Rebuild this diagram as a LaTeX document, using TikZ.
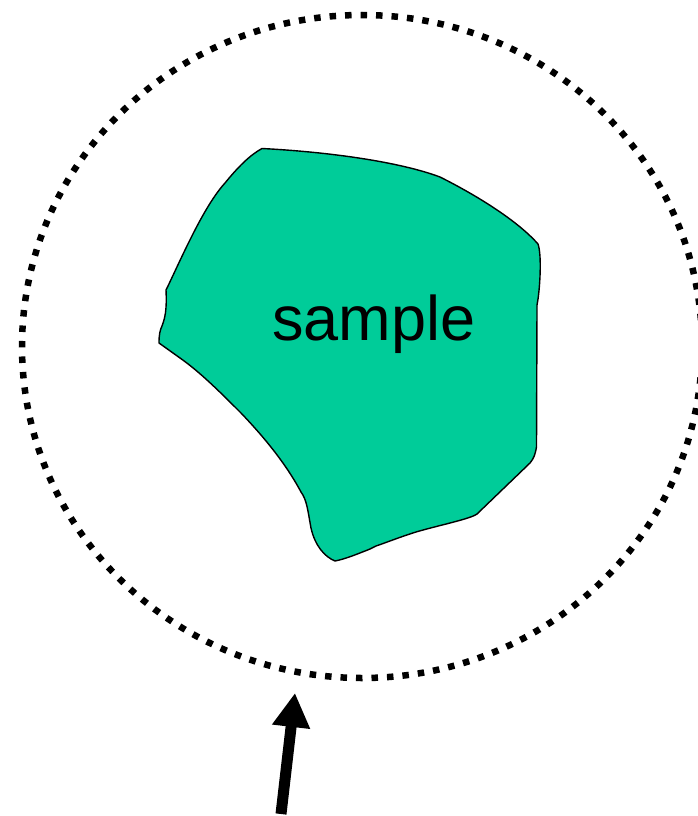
\documentclass[tikz,border=0pt]{standalone}
\usepackage{fontspec}
\setmainfont{Liberation Sans}
\usetikzlibrary{arrows.meta}
\definecolor{samplegreen}{RGB}{0,204,153}
\tikzset{
  dotring/.style={draw=black, line width=6.5pt, dash pattern=on 6.5pt off 9pt},
  sampleshape/.style={draw=black, line width=1.4pt, fill=samplegreen, line join=round},
  beam/.style={line width=11pt, -{Triangle[width=36pt,length=34pt]}},
  labeltext/.style={font=\fontsize{63}{70}\selectfont, inner sep=0pt}
}
\begin{document}
\begin{tikzpicture}[x=1pt,y=-1pt]
\useasboundingbox (0,0) rectangle (697,816);
% dotted ring
\draw[dotring] (362,346.5) ellipse [x radius=340, y radius=331.5];
% sample
\path[sampleshape] (262,148.5)
  .. controls (330,152) and (400,162) .. (440,177)
  .. controls (470,192) and (515,218) .. (538,244)
  .. controls (542,255) and (540,290) .. (537,305)
  -- (536.5,447)
  .. controls (535,455) and (534,458) .. (530,463)
  -- (477,514)
  .. controls (470,519) and (440,525) .. (416,532)
  .. controls (400,537) and (385,543) .. (376,546)
  -- (370,549)
  .. controls (355,555) and (345,559) .. (335,561)
  .. controls (325,557) and (315,546) .. (311,528)
  .. controls (308,512) and (307,500) .. (301,492)
  .. controls (285,462) and (262,435) .. (241,413)
  .. controls (220,392) and (200,372) .. (180,358)
  -- (159,343)
  .. controls (159,335) and (160,330) .. (162,326)
  .. controls (165,318) and (167,310) .. (166,290)
  -- (168,286)
  .. controls (185,250) and (205,205) .. (225,183)
  .. controls (238,167) and (250,155) .. (262,148.5) -- cycle;
\node[labeltext] (lbl) at (374,324) {sample};
% arrow
\coordinate (beamstart) at (281,814);
\coordinate (beamend) at (295,693);
\draw[beam] (beamstart) -- (beamend);
\end{tikzpicture}
\end{document}
